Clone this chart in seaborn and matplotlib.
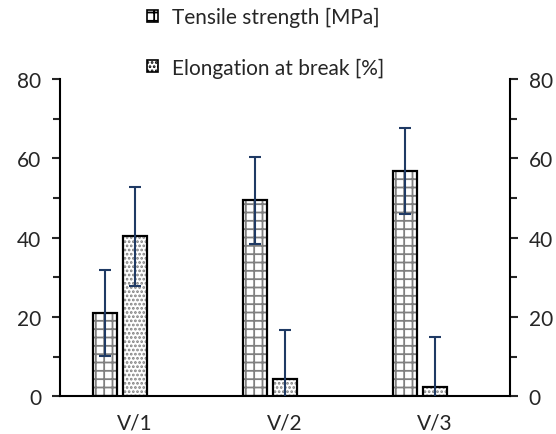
import numpy as np
import pandas as pd
import matplotlib.pyplot as plt
import seaborn as sns
from matplotlib.patches import Patch
from matplotlib.ticker import MultipleLocator

samples = ['V/1', 'V/2', 'V/3']
series = ['Tensile strength [MPa]', 'Elongation at break [%]']
tensile = [20.9, 49.4, 56.8]
tensile_err = [10.8, 10.9, 10.8]
elongation = [40.3, 4.4, 2.4]
elongation_err = [12.4, 12.3, 12.4]
hatches = ['++', '....']

sns.set_style('white')
plt.rcParams['font.family'] = ['Lato', 'DejaVu Sans']
plt.rcParams['hatch.linewidth'] = 1.3
fs = 15

df = pd.DataFrame({
    'sample': samples * 2,
    'series': [series[0]] * 3 + [series[1]] * 3,
    'value': tensile + elongation,
})

fig, ax = plt.subplots(figsize=(5.56, 4.35), dpi=100)
fig.subplots_adjust(left=0.108, right=0.917, bottom=0.087, top=0.816)

# filled bars carry the grey hatch, a second pass draws the black outlines
sns.barplot(data=df, x='sample', y='value', hue='series', width=0.4, gap=0.2,
            palette=['white', 'white'], edgecolor='#808080', linewidth=0,
            legend=False, ax=ax, zorder=2)
for cont, h in zip(ax.containers, hatches):
    for p in cont:
        p.set_hatch(h)
sns.barplot(data=df, x='sample', y='value', hue='series', width=0.4, gap=0.2,
            palette=['black', 'black'], fill=False, linewidth=1.6,
            legend=False, ax=ax, zorder=3)

for cont, errs in zip(ax.containers[:2], [tensile_err, elongation_err]):
    xs = [p.get_x() + p.get_width() / 2 for p in cont]
    ys = [p.get_height() for p in cont]
    ax.errorbar(xs, ys, yerr=errs, fmt='none', ecolor='#1f3a64', elinewidth=1.5,
                capsize=4.3, capthick=1.5, zorder=4)

ax.set_ylim(0, 80)
ax.set_xlim(-0.4, 2.6)
ax.set_xticks(np.arange(len(samples)) + 0.1, samples)
ax.set_xlabel('')
ax.set_ylabel('')
ax.tick_params(axis='x', length=0, labelsize=fs, pad=12)

ax2 = ax.twinx()
ax2.set_ylim(0, 80)
for a in (ax, ax2):
    a.yaxis.set_major_locator(MultipleLocator(20))
    a.yaxis.set_minor_locator(MultipleLocator(10))
    a.tick_params(axis='y', which='major', length=5.5, width=1.5, labelsize=fs, pad=8)
    a.tick_params(axis='y', which='minor', length=5, width=1.5)
    a.spines['top'].set_visible(False)
    for s in a.spines.values():
        s.set_linewidth(1.5)
        s.set_color('black')
ax.spines['right'].set_visible(False)
ax2.spines['left'].set_visible(False)
ax2.spines['bottom'].set_visible(False)

handles = [Patch(facecolor='white', edgecolor='black', linewidth=1.2, hatch=h) for h in hatches]
fig.legend(handles, series, loc='center', bbox_to_anchor=(0.478, 0.900), frameon=False,
           fontsize=fs, handlelength=0.5, handleheight=0.5, handletextpad=0.7,
           labelspacing=1.45)

fig.savefig('out.png', dpi=100)
